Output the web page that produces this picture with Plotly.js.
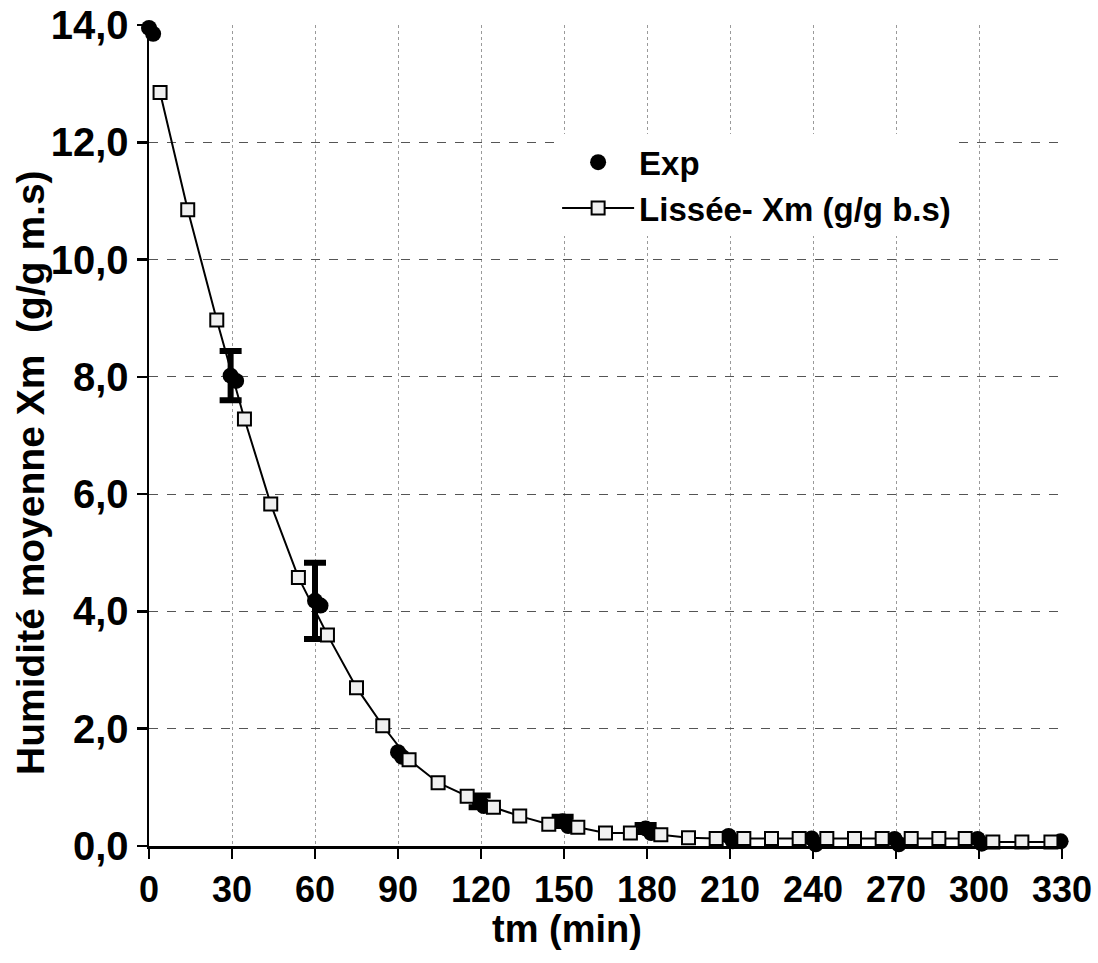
<!DOCTYPE html>
<html>
<head>
<meta charset="utf-8">
<script src="https://cdn.plot.ly/plotly-3.0.1.min.js"></script>
<style>html,body{margin:0;padding:0;background:#fff;}#chart{width:1098px;height:963px;}</style>
</head>
<body>
<div id="chart"></div>
<script>
// Experimental points (two replicates per sampling time)
var expTime = [0, 1.5, 29.5, 31.5, 60, 62, 90, 91.5, 119.5, 121, 149.5, 151.5, 179.5, 181.5, 209.5, 211, 239.5, 241, 269.5, 271, 299.5, 301, 329.5, 331];
var expX    = [13.95, 13.85, 8.02, 7.93, 4.18, 4.10, 1.60, 1.52, 0.76, 0.68, 0.42, 0.34, 0.30, 0.22, 0.17, 0.08, 0.13, 0.03, 0.12, 0.03, 0.12, 0.04, 0.08, 0.00];
// error bar half-widths (NaN = no error bar)
var expErr  = [NaN, NaN, 0.42, NaN, 0.65, NaN, NaN, NaN, 0.10, NaN, 0.08, NaN, 0.06, NaN, NaN, NaN, NaN, NaN, NaN, NaN, NaN, NaN, NaN, NaN];

// Smoothed curve
var lisTime = [4, 14, 24.5, 34.5, 44, 54, 64.5, 75, 84.5, 94, 104.5, 115, 124.5, 134, 144.5, 155, 165, 174, 185, 195, 205, 215, 225, 235, 245, 255, 265, 275.5, 285.5, 295, 305, 315.5, 326];
var lisX    = [12.85, 10.85, 8.97, 7.28, 5.83, 4.58, 3.60, 2.70, 2.05, 1.47, 1.08, 0.85, 0.66, 0.51, 0.37, 0.32, 0.22, 0.22, 0.19, 0.14, 0.13, 0.13, 0.13, 0.13, 0.13, 0.13, 0.13, 0.13, 0.13, 0.13, 0.07, 0.07, 0.07];

// Axis ticks
var xTicks = [0, 30, 60, 90, 120, 150, 180, 210, 240, 270, 300, 330];
var yTicks = [0, 2, 4, 6, 8, 10, 12, 14];
var yTickText = ['0,0', '2,0', '4,0', '6,0', '8,0', '10,0', '12,0', '14,0'];

var FONT = 'Liberation Sans, Arial, Helvetica, sans-serif';

var traces = [
  {
    x: expTime, y: expX, name: 'Exp', type: 'scatter', mode: 'markers',
    cliponaxis: false,
    marker: {symbol: 'circle', size: 16, color: '#000'},
    error_y: {type: 'data', array: expErr, visible: true, color: '#000', thickness: 6, width: 11}
  },
  {
    x: lisTime, y: lisX, name: 'Lissée- Xm (g/g b.s)', type: 'scatter', mode: 'lines+markers',
    cliponaxis: false,
    line: {color: '#000', width: 2},
    marker: {symbol: 'square', size: 13, color: '#f0f0f0', line: {color: '#000', width: 2}}
  }
];

var layout = {
  width: 1098, height: 963,
  margin: {l: 149, r: 36, t: 25, b: 117},
  paper_bgcolor: '#fff', plot_bgcolor: '#fff',
  showlegend: true,
  legend: {
    x: 0.447, y: 0.867, xanchor: 'left', yanchor: 'top',
    bgcolor: '#fff', borderwidth: 0,
    itemwidth: 72,
    font: {family: FONT, size: 33, color: '#000', weight: 'bold'},
    tracegroupgap: 0
  },
  xaxis: {
    range: [0, 330], tickvals: xTicks, ticktext: xTicks.map(String),
    showline: true, linecolor: '#000', linewidth: 2.5,
    ticks: 'outside', ticklen: 10, tickwidth: 2.5, tickcolor: '#000',
    showgrid: true, gridcolor: '#9a9a9a', gridwidth: 1, griddash: 'dot',
    zeroline: false,
    tickfont: {family: FONT, size: 36, color: '#000', weight: 'bold'}
  },
  yaxis: {
    range: [0, 14], tickvals: yTicks, ticktext: yTickText,
    showline: true, linecolor: '#000', linewidth: 2.5,
    ticks: 'outside', ticklen: 10, tickwidth: 2.5, tickcolor: '#000',
    showgrid: true, gridcolor: '#555', gridwidth: 1, griddash: 'dash',
    zeroline: false,
    tickfont: {family: FONT, size: 40, color: '#000', weight: 'bold'}
  },
  annotations: [
    {text: 'tm (min)', xref: 'paper', yref: 'paper', x: (567 - 149) / 913, y: -(929 - 846) / 821,
     xanchor: 'center', yanchor: 'middle', showarrow: false,
     font: {family: FONT, size: 38, color: '#000', weight: 'bold'}},
    {text: 'Humidité moyenne Xm  (g/g m.s)', xref: 'paper', yref: 'paper',
     x: (30 - 149) / 913, y: (846 - 473) / 821, textangle: -90,
     xanchor: 'center', yanchor: 'middle', showarrow: false,
     font: {family: FONT, size: 39, color: '#000', weight: 'bold'}}
  ]
};

Plotly.newPlot('chart', traces, layout, {displayModeBar: false, staticPlot: true});
</script>
</body>
</html>
